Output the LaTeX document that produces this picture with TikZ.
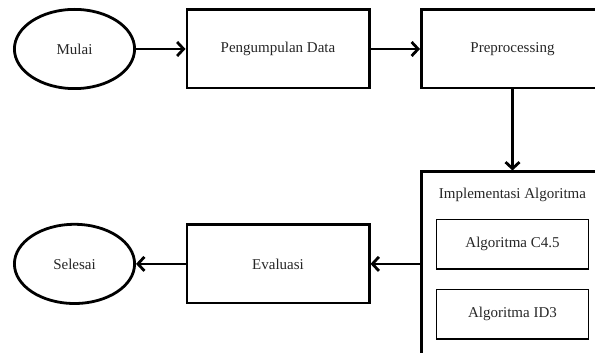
\documentclass[tikz,border=0pt]{standalone}
\usepackage{fontspec}
\setmainfont{Liberation Serif}
\usepackage{tikz}
\usetikzlibrary{arrows.meta, positioning, shapes.geometric}

\begin{document}
\begin{tikzpicture}[
    x=1pt, y=1pt,
    node distance=49.5pt,
    proc/.style={
        rectangle, draw, line width=2.8pt,
        minimum width=182.2pt, minimum height=78.2pt,
        align=center, font=\fontsize{15pt}{18pt}\selectfont,
        text=black!85
    },
    term/.style={
        ellipse, draw, line width=2.8pt,
        minimum width=120.2pt, minimum height=79.2pt,
        font=\fontsize{15pt}{18pt}\selectfont, text=black!85
    },
    algo/.style={
        rectangle, draw, line width=1.9pt,
        minimum width=152pt, minimum height=49.1pt,
        font=\fontsize{15pt}{18pt}\selectfont, text=black!85
    },
    arr/.style={-{Straight Barb[length=6.5pt, width=14pt]}, line width=2.8pt},
]

% ── Frame ────────────────────────────
\useasboundingbox (-74.5,49) rectangle (520.5,-304);
\clip (-74.5,49) rectangle (520.5,-304);

% ── Row 1 ────────────────────────────
\node[term] (mulai) at (0,0) {Mulai};
\node[proc, right=of mulai] (kumpul) {Pengumpulan Data};
\node[proc, right=of kumpul] (prepro) {Preprocessing};

% ── Implementasi ─────────────────────
\node[proc, minimum height=184pt, below=81pt of prepro] (impl) {};
\node[inner sep=0pt, font=\fontsize{15pt}{18pt}\selectfont, text=black!85,
      below=17pt of impl.north] (impltitle) {Implementasi Algoritma};
\node[algo, below=48pt of impl.north] (c45) {Algoritma C4.5};
\node[algo, below=19pt of c45] (id3) {Algoritma ID3};

% ── Row 2 ────────────────────────────
\node[proc, left=of impl] (eval) {Evaluasi};
\node[term, left=of eval] (selesai) {Selesai};

% ── Arrows ───────────────────────────
\draw[arr] (mulai) -- (kumpul);
\draw[arr] (kumpul) -- (prepro);
\draw[arr] (prepro) -- (impl);
\draw[arr] (impl) -- (eval);
\draw[arr] (eval) -- (selesai);

\end{tikzpicture}
\end{document}
